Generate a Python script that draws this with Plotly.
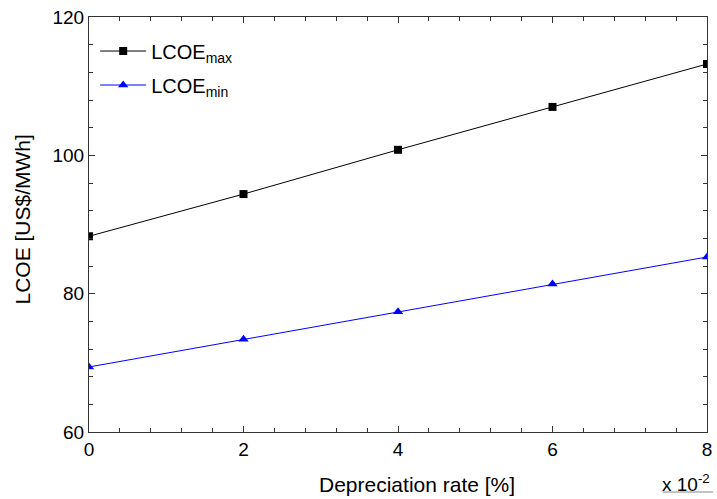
import plotly.graph_objects as go

depreciation = [0, 2, 4, 6, 8]
lcoe_max = [88.3, 94.4, 100.8, 107.0, 113.2]
lcoe_min = [69.4, 73.4, 77.4, 81.4, 85.3]
x_ticks = [0, 2, 4, 6, 8]
y_ticks = [60, 80, 100, 120]

FONT = "Liberation Sans, Arial"

fig = go.Figure()
fig.add_trace(go.Scatter(x=depreciation, y=lcoe_max, mode="lines+markers",
                         name="LCOE<sub>max</sub>", legendgroup="a",
                         line=dict(color="black", width=1),
                         marker=dict(symbol="square", size=8, color="black")))
fig.add_trace(go.Scatter(x=depreciation, y=lcoe_min, mode="lines+markers",
                         name="LCOE<sub>min</sub>", legendgroup="b",
                         line=dict(color="blue", width=1),
                         marker=dict(symbol="triangle-up", size=9, color="blue")))

axis_common = dict(showgrid=False, zeroline=False, showline=True, linecolor="#333",
                   linewidth=1, mirror="allticks", ticks="inside", ticklen=6,
                   tickcolor="#333", ticklabeloverflow="allow",
                   tickfont=dict(family=FONT, size=19, color="black"))

fig.update_xaxes(range=[0, 8], tickvals=x_ticks, ticktext=[str(v) for v in x_ticks],
                 minor=dict(dtick=0.4, ticks="inside", ticklen=4, tickcolor="#333"),
                 **axis_common)
fig.update_yaxes(range=[60, 120], tickvals=y_ticks,
                 minor=dict(dtick=4, ticks="inside", ticklen=4, tickcolor="#333"),
                 **axis_common)

# axis titles
fig.add_annotation(x=0.531, y=-0.095, xref="paper", yref="paper", xanchor="center", yanchor="top",
                   text="Depreciation rate [%]", showarrow=False,
                   font=dict(family=FONT, size=21, color="black"))
fig.add_annotation(x=-0.1075, y=0.511, xref="paper", yref="paper", xanchor="center", yanchor="middle",
                   text="LCOE [US$/MWh]", textangle=-90, showarrow=False,
                   font=dict(family=FONT, size=21, color="black"))

# exponent label
fig.add_annotation(x=1.008, y=-0.088, xref="paper", yref="paper", xanchor="right", yanchor="top",
                   text="x 10<sup>-2</sup>", showarrow=False,
                   font=dict(family=FONT, size=19, color="black"))
fig.add_shape(type="line", xref="paper", yref="paper", x0=0.928, x1=1.01, y0=-0.1446, y1=-0.1446,
              line=dict(color="#888", width=1))

fig.update_layout(width=717, height=499, margin=dict(l=89, r=5, t=17, b=67),
                  plot_bgcolor="white", paper_bgcolor="white",
                  legend=dict(x=0.01, y=0.965, xanchor="left", yanchor="top", bgcolor="rgba(0,0,0,0)",
                              font=dict(family=FONT, size=20, color="black"),
                              itemwidth=46, tracegroupgap=5))

fig.write_html("out.html")
